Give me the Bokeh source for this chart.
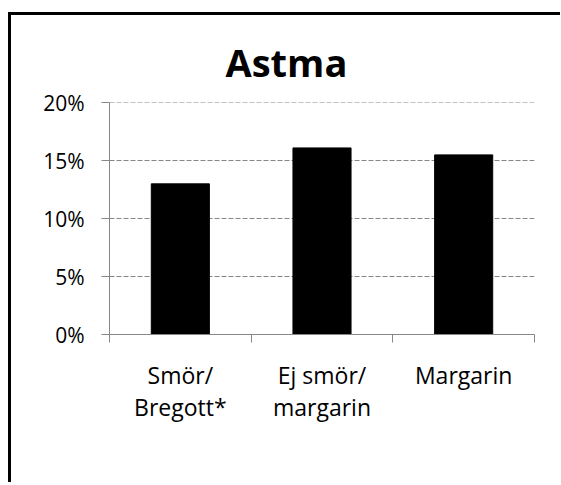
from bokeh.plotting import figure
from bokeh.models import (Range1d, LinearAxis, FixedTicker, NumeralTickFormatter, Grid)
from bokeh.embed import file_html
from bokeh.resources import INLINE

title_text = "Astma"
categories = ["Smör/\nBregott*", "Ej smör/\nmargarin", "Margarin"]
values = [0.13, 0.161, 0.155]
y_ticks = [0.0, 0.05, 0.10, 0.15, 0.20]

GRAY = "#878787"
FONT = "Open Sans"

n = len(categories)
centers = [i + 0.5 for i in range(n)]
bounds = list(range(n + 1))

p = figure(x_range=Range1d(0, n), y_range=Range1d(0, 0.2002),
           frame_width=425, frame_height=232,
           min_border_left=98, min_border_right=26, min_border_top=87, min_border_bottom=148,
           x_axis_location=None, y_axis_location=None,
           output_backend="svg", toolbar_location=None)
p.outline_line_color = None
p.background_fill_color = "white"
p.border_fill_color = "white"
p.grid.visible = False
# chart-area border: top and left edges as in the reference
p.styles = {"margin-left": "8px", "margin-top": "12px", "box-sizing": "content-box",
            "border-top": "3px solid black", "border-left": "3px solid black"}

# axis line with ticks at category boundaries
bax = LinearAxis(ticker=FixedTicker(ticks=bounds),
                 major_label_overrides={b: "" for b in bounds},
                 major_tick_in=0, major_tick_out=8, minor_tick_line_color=None,
                 axis_line_color=GRAY, major_tick_line_color=GRAY,
                 major_label_standoff=0)
p.add_layout(bax, "below")

# category labels at the centers
cax = LinearAxis(ticker=FixedTicker(ticks=centers),
                 major_label_overrides={c: lab for c, lab in zip(centers, categories)},
                 axis_line_color=None, major_tick_line_color=None, minor_tick_line_color=None,
                 major_label_text_font=FONT, major_label_text_font_size="23px",
                 major_label_text_color="black", major_label_text_line_height=1.03,
                 major_label_standoff=10)
p.add_layout(cax, "below")

yax = LinearAxis(ticker=FixedTicker(ticks=y_ticks), formatter=NumeralTickFormatter(format="0%"),
                 major_tick_in=0, major_tick_out=8, minor_tick_line_color=None,
                 axis_line_color=GRAY, major_tick_line_color=GRAY,
                 major_label_text_font=FONT, major_label_text_font_size="21px",
                 major_label_text_color="black", major_label_standoff=17)
p.add_layout(yax, "left")

p.add_layout(Grid(dimension=1, ticker=yax.ticker, grid_line_color=GRAY, grid_line_dash="5 2",
                  grid_line_width=1))

p.vbar(x=centers, top=values, width=0.41, fill_color="black", line_color="black")

p.title.text = title_text
p.title.text_font = FONT
p.title.text_font_style = "bold"
p.title.text_font_size = "38px"
p.title.text_color = "black"
p.title.align = "left"
p.title.offset = 116
p.title.standoff = 29

open("out.html", "w").write(file_html(p, INLINE))
